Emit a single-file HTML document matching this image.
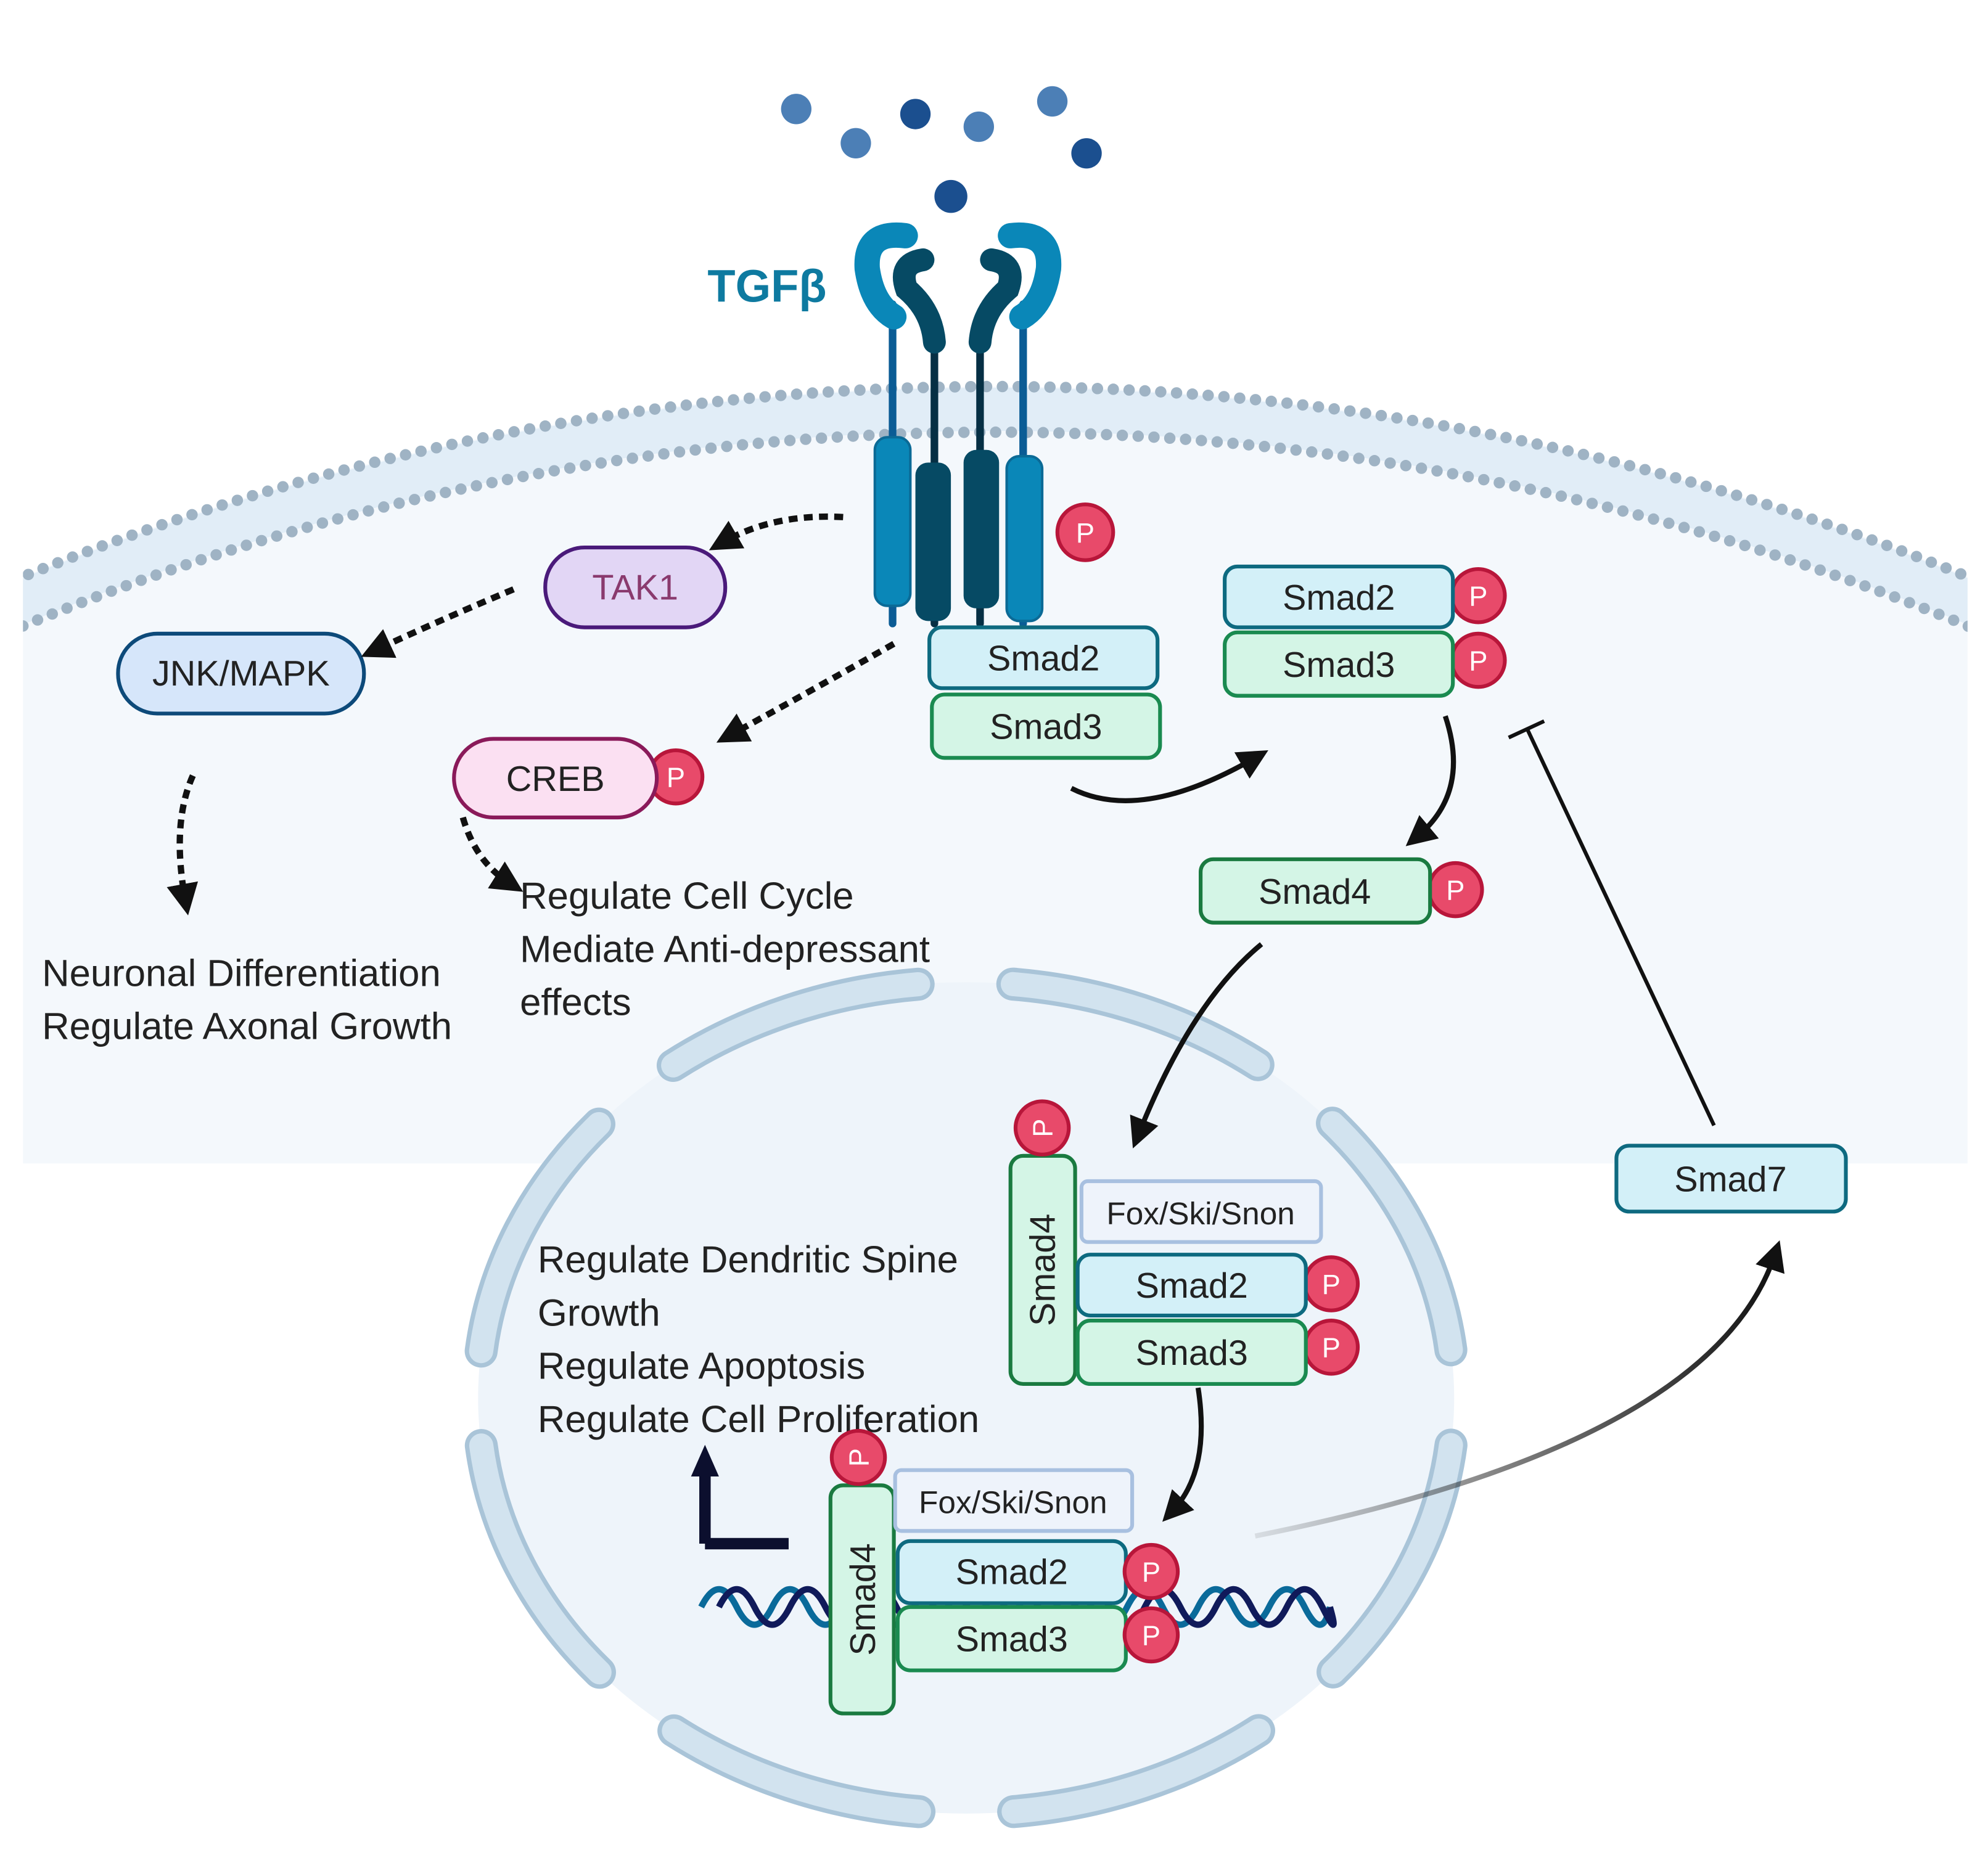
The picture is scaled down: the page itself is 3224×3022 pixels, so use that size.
<!DOCTYPE html>
<html><head><meta charset="utf-8"><style>
html,body{margin:0;padding:0;background:#fff;width:3224px;height:3022px;overflow:hidden}
svg{display:block}
text{font-family:"Liberation Sans",sans-serif}
</style></head><body>
<svg width="3224" height="3022" viewBox="0 0 1568 1470" xmlns="http://www.w3.org/2000/svg">
<defs>
<clipPath id="cell"><rect x="18" y="0" width="1534" height="918"/></clipPath>
<marker id="ah" markerWidth="6" markerHeight="6" refX="3" refY="3" orient="auto" markerUnits="strokeWidth"><path d="M0,0 L6,3 L0,6 z" fill="#111"/></marker>
<marker id="ahd" markerWidth="5" markerHeight="5" refX="2.5" refY="2.5" orient="auto" markerUnits="strokeWidth"><path d="M0,0 L5,2.5 L0,5 z" fill="#111"/></marker>
<linearGradient id="fade" x1="0" y1="0" x2="1" y2="0"><stop offset="0" stop-color="#111" stop-opacity="0.1"/><stop offset="1" stop-color="#111"/></linearGradient>
</defs>
<rect width="1568" height="1470" fill="#fff"/>
<g clip-path="url(#cell)">
<circle cx="785" cy="2341" r="2036" fill="#f4f8fc"/>
<circle cx="785" cy="2341" r="2018" fill="none" stroke="#e1edf7" stroke-width="34"/>
<circle cx="785" cy="2341" r="2036" fill="none" stroke="#9fb3c4" stroke-width="9" stroke-linecap="round" stroke-dasharray="0 12.5"/>
<circle cx="785" cy="2341" r="2000" fill="none" stroke="#9fb3c4" stroke-width="9" stroke-linecap="round" stroke-dasharray="0 12.5"/>
</g>
<ellipse cx="762" cy="1103" rx="385" ry="328" fill="#eef4fa"/>
<ellipse cx="762" cy="1103" rx="385" ry="328" fill="none" stroke="#a9c4d8" stroke-width="26" stroke-linecap="round" pathLength="360" stroke-dasharray="33 12" stroke-dashoffset="-6"/>
<ellipse cx="762" cy="1103" rx="385" ry="328" fill="none" stroke="#d2e3ef" stroke-width="19" stroke-linecap="round" pathLength="360" stroke-dasharray="33 12" stroke-dashoffset="-6"/>
<g>
<circle cx="628" cy="86" r="12" fill="#4c7fb6"/><circle cx="675" cy="113" r="12" fill="#4c7fb6"/>
<circle cx="722" cy="90" r="12" fill="#1b4f8f"/><circle cx="772" cy="100" r="12" fill="#4c7fb6"/>
<circle cx="830" cy="80" r="12" fill="#4c7fb6"/><circle cx="857" cy="121" r="12" fill="#1b4f8f"/>
<circle cx="750" cy="155" r="13" fill="#1b4f8f"/>
</g>
<text x="558" y="238" font-size="36" font-weight="bold" fill="#0e7aa0">TGFβ</text>
<g stroke-linecap="round" fill="none">
<line x1="704" y1="240" x2="704" y2="492" stroke="#0b5c95" stroke-width="6"/>
<line x1="807" y1="240" x2="807" y2="492" stroke="#0b5c95" stroke-width="6"/>
<line x1="737" y1="270" x2="737" y2="492" stroke="#062f44" stroke-width="6"/>
<line x1="773" y1="270" x2="773" y2="492" stroke="#062f44" stroke-width="6"/>
<path d="M714 186 Q682 182 684 212 Q688 240 705 250" stroke="#0a87b8" stroke-width="20"/>
<path d="M797 186 Q829 182 827 212 Q823 240 806 250" stroke="#0a87b8" stroke-width="20"/>
<path d="M728 205 Q708 208 715 228 Q735 245 737 270" stroke="#064a64" stroke-width="18"/>
<path d="M782 205 Q802 208 795 228 Q775 245 773 270" stroke="#064a64" stroke-width="18"/>
</g>
<rect x="690" y="345" width="28" height="133" rx="10" fill="#0a87b8" stroke="#0b6a96" stroke-width="2"/>
<rect x="722" y="365" width="28" height="125" rx="10" fill="#064a64"/>
<rect x="760" y="355" width="28" height="125" rx="10" fill="#064a64"/>
<rect x="794" y="360" width="28" height="130" rx="10" fill="#0a87b8" stroke="#0b6a96" stroke-width="2"/>
<g font-size="22" text-anchor="middle" fill="#fff">
<circle cx="856" cy="420" r="22" fill="#e84a6a" stroke="#b8163a" stroke-width="3"/><text x="856" y="428">P</text>
<circle cx="1166" cy="470" r="21" fill="#e84a6a" stroke="#b8163a" stroke-width="3"/><text x="1166" y="478">P</text>
<circle cx="1166" cy="521" r="21" fill="#e84a6a" stroke="#b8163a" stroke-width="3"/><text x="1166" y="529">P</text>
<circle cx="1148" cy="702" r="21" fill="#e84a6a" stroke="#b8163a" stroke-width="3"/><text x="1148" y="710">P</text>
<circle cx="533" cy="613" r="21" fill="#e84a6a" stroke="#b8163a" stroke-width="3"/><text x="533" y="621">P</text>
<circle cx="1050" cy="1013" r="21" fill="#e84a6a" stroke="#b8163a" stroke-width="3"/><text x="1050" y="1021">P</text>
<circle cx="1050" cy="1063" r="21" fill="#e84a6a" stroke="#b8163a" stroke-width="3"/><text x="1050" y="1071">P</text>
</g>
<g font-size="28" text-anchor="middle" fill="#222">
<rect x="733" y="495" width="180" height="48" rx="10" fill="#d3f0f8" stroke="#0e6a80" stroke-width="3"/><text x="823" y="529">Smad2</text>
<rect x="735" y="548" width="180" height="50" rx="10" fill="#d4f5e6" stroke="#1a8a50" stroke-width="3"/><text x="825" y="583">Smad3</text>
<rect x="966" y="447" width="180" height="48" rx="10" fill="#d3f0f8" stroke="#0e6a80" stroke-width="3"/><text x="1056" y="481">Smad2</text>
<rect x="966" y="499" width="180" height="50" rx="10" fill="#d4f5e6" stroke="#1a8a50" stroke-width="3"/><text x="1056" y="534">Smad3</text>
<rect x="947" y="678" width="181" height="50" rx="10" fill="#d4f5e6" stroke="#1a7a40" stroke-width="3"/><text x="1037" y="713">Smad4</text>
<rect x="1275" y="904" width="181" height="52" rx="10" fill="#d3f0f8" stroke="#0e6a80" stroke-width="3"/><text x="1365" y="940">Smad7</text>
<rect x="430" y="432" width="142" height="63" rx="31" fill="#e2d6f5" stroke="#4a1a7a" stroke-width="3"/><text x="501" y="473" fill="#8a3a6e">TAK1</text>
<rect x="93" y="500" width="194" height="63" rx="31" fill="#d6e6fa" stroke="#0d4a7a" stroke-width="3"/><text x="190" y="541">JNK/MAPK</text>
<rect x="358" y="583" width="160" height="62" rx="31" fill="#fbe0f2" stroke="#8a1a5a" stroke-width="3"/><text x="438" y="624">CREB</text>
</g>
<g fill="none" stroke="#111" stroke-width="5" stroke-dasharray="7 5" marker-end="url(#ahd)">
<path d="M665 408 Q610 405 570 428"/>
<path d="M405 465 Q350 488 296 513"/>
<path d="M705 508 Q640 545 576 580"/>
<path d="M152 612 Q135 650 146 710"/>
<path d="M365 645 Q375 680 402 697"/>
</g>
<g font-size="30" fill="#222">
<text x="33" y="778">Neuronal Differentiation</text>
<text x="33" y="820">Regulate Axonal Growth</text>
<text x="410" y="717">Regulate Cell Cycle</text>
<text x="410" y="759">Mediate Anti-depressant</text>
<text x="410" y="801">effects</text>
<text x="424" y="1004">Regulate Dendritic Spine</text>
<text x="424" y="1046">Growth</text>
<text x="424" y="1088">Regulate Apoptosis</text>
<text x="424" y="1130">Regulate Cell Proliferation</text>
</g>
<g fill="none" stroke="#111" stroke-width="4" marker-end="url(#ah)">
<path d="M845 622 Q900 650 990 598"/>
<path d="M1140 565 Q1160 625 1118 660"/>
<path d="M995 745 Q940 790 898 895"/>
<path d="M945 1095 Q955 1160 925 1192"/>
</g>
<path d="M990 1212 Q1350 1140 1400 990" fill="none" stroke="url(#fade)" stroke-width="4" marker-end="url(#ah)"/>
<line x1="1352" y1="888" x2="1205" y2="576" stroke="#111" stroke-width="3"/>
<line x1="1190" y1="582" x2="1218" y2="569" stroke="#111" stroke-width="3"/>
<g fill="none" stroke-width="5">
<path d="M553 1268 q14 -28 28 0 t28 0 t28 0 t28 0 t28 0 t28 0 t28 0 t28 0 t28 0 t28 0 t28 0 t28 0 t28 0 t28 0 t28 0 t28 0 t28 0 t20 0" stroke="#0a6a9a"/>
<path d="M567 1268 q14 -28 28 0 t28 0 t28 0 t28 0 t28 0 t28 0 t28 0 t28 0 t28 0 t28 0 t28 0 t28 0 t28 0 t28 0 t28 0 t28 0 t28 0 t6 0" stroke="#101a5a"/>
</g>
<path d="M556 1218 L556 1162 M556 1218 L622 1218" stroke="#0c0f2e" stroke-width="9" fill="none"/>
<path d="M545 1165 L556 1140 L567 1165 z" fill="#0c0f2e"/>
<g font-size="28" text-anchor="middle" fill="#222">
<rect x="797" y="912" width="51" height="180" rx="10" fill="#d4f5e6" stroke="#1a7a40" stroke-width="3"/>
<text transform="translate(832 1002) rotate(-90)">Smad4</text>
<rect x="853" y="932" width="189" height="48" rx="5" fill="#eef3fb" stroke="#a8c0e0" stroke-width="3"/><text x="947" y="966" font-size="25">Fox/Ski/Snon</text>
<rect x="850" y="990" width="180" height="48" rx="10" fill="#d3f0f8" stroke="#0e6a80" stroke-width="3"/><text x="940" y="1024">Smad2</text>
<rect x="850" y="1042" width="180" height="50" rx="10" fill="#d4f5e6" stroke="#1a8a50" stroke-width="3"/><text x="940" y="1077">Smad3</text>
<rect x="655" y="1172" width="50" height="180" rx="10" fill="#d4f5e6" stroke="#1a7a40" stroke-width="3"/>
<text transform="translate(690 1262) rotate(-90)">Smad4</text>
<rect x="706" y="1160" width="187" height="48" rx="5" fill="#eef3fb" stroke="#a8c0e0" stroke-width="3"/><text x="799" y="1194" font-size="25">Fox/Ski/Snon</text>
<rect x="708" y="1216" width="180" height="49" rx="10" fill="#d3f0f8" stroke="#0e6a80" stroke-width="3"/><text x="798" y="1250">Smad2</text>
<rect x="708" y="1268" width="180" height="50" rx="10" fill="#d4f5e6" stroke="#1a8a50" stroke-width="3"/><text x="798" y="1303">Smad3</text>
</g>
<g font-size="22" text-anchor="middle" fill="#fff">
<circle cx="822" cy="890" r="21" fill="#e84a6a" stroke="#b8163a" stroke-width="3"/><text transform="translate(830 890) rotate(-90)">P</text>
<circle cx="677" cy="1150" r="21" fill="#e84a6a" stroke="#b8163a" stroke-width="3"/><text transform="translate(685 1150) rotate(-90)">P</text>
<circle cx="908" cy="1240" r="21" fill="#e84a6a" stroke="#b8163a" stroke-width="3"/><text x="908" y="1248">P</text>
<circle cx="908" cy="1290" r="21" fill="#e84a6a" stroke="#b8163a" stroke-width="3"/><text x="908" y="1298">P</text>
</g>
</svg>
</body></html>
